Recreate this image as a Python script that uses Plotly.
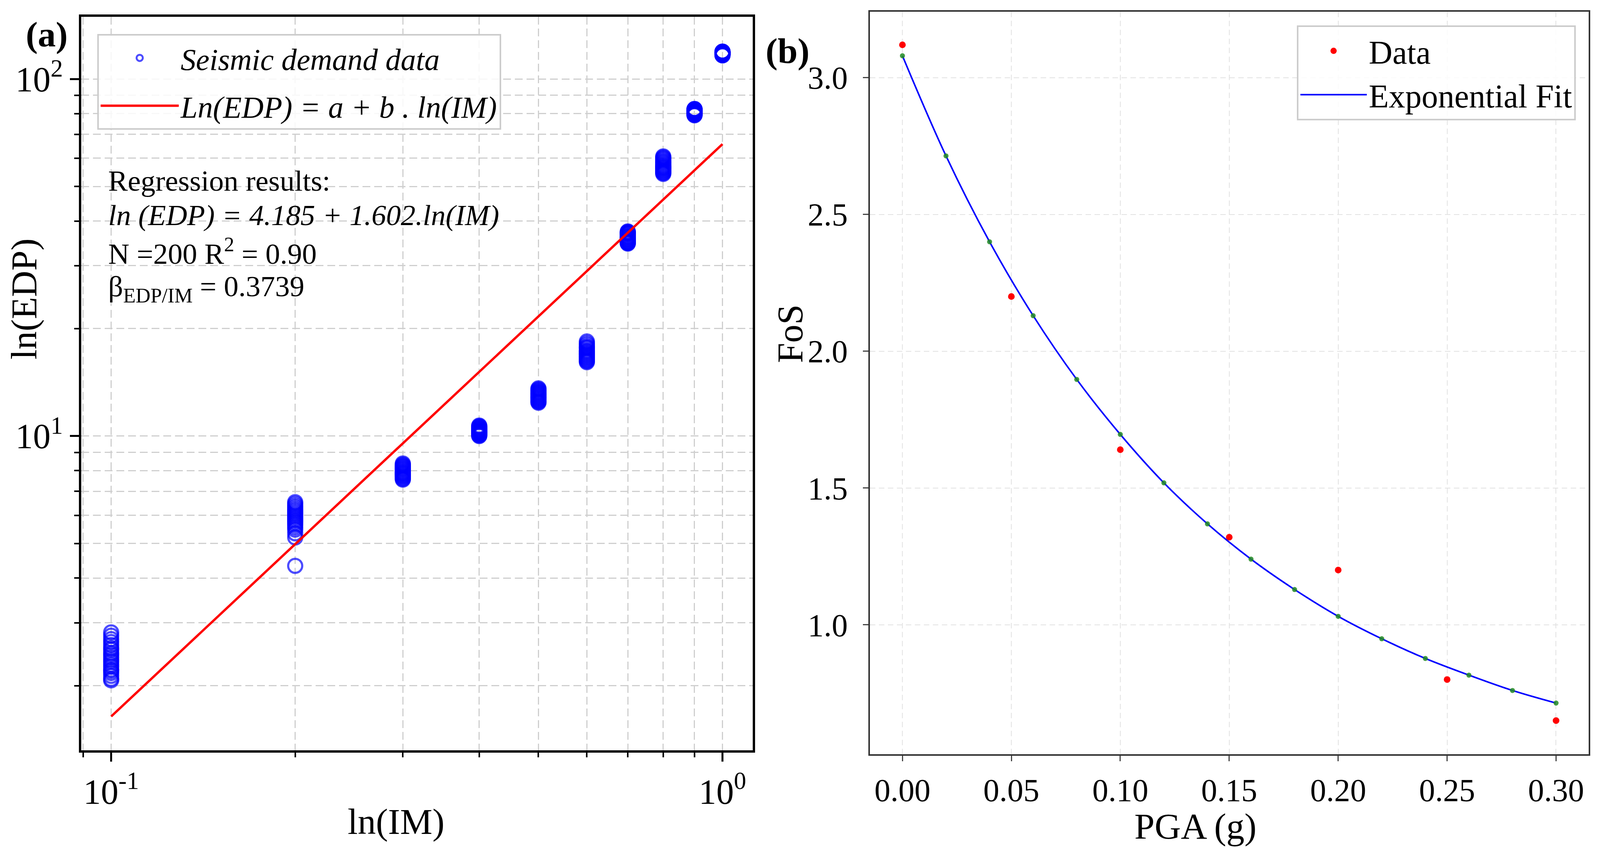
import plotly.graph_objects as go

# ---- panel (a): seismic demand data (IM levels, 20 records each) ----
im_levels = [0.1, 0.2, 0.3, 0.4, 0.5, 0.6, 0.7, 0.8, 0.9, 1.0]
edp_by_im = [
    [2.07, 2.09, 2.13, 2.17, 2.20, 2.22, 2.26, 2.29, 2.33, 2.36,
     2.40, 2.44, 2.47, 2.52, 2.55, 2.60, 2.65, 2.70, 2.76, 2.82],
    [4.33, 5.20, 5.34, 5.47, 5.55, 5.63, 5.70, 5.76, 5.82, 5.88,
     5.94, 6.00, 6.06, 6.12, 6.18, 6.24, 6.31, 6.38, 6.46, 6.53],
    [7.55, 7.59, 7.64, 7.69, 7.73, 7.77, 7.81, 7.85, 7.88, 7.92,
     7.96, 8.00, 8.05, 8.09, 8.13, 8.18, 8.22, 8.27, 8.32, 8.38],
    [10.00, 10.04, 10.08, 10.11, 10.15, 10.18, 10.21, 10.24, 10.27, 10.30,
     10.33, 10.36, 10.40, 10.44, 10.48, 10.52, 10.56, 10.61, 10.65, 10.70],
    [12.40, 12.46, 12.52, 12.58, 12.64, 12.70, 12.76, 12.82, 12.88, 12.94,
     13.00, 13.06, 13.12, 13.18, 13.24, 13.30, 13.37, 13.44, 13.52, 13.60],
    [16.1, 16.2, 16.3, 16.4, 16.5, 16.6, 16.7, 16.8, 16.9, 17.0,
     17.1, 17.2, 17.3, 17.4, 17.6, 17.7, 17.8, 18.0, 18.2, 18.4],
    [34.6, 34.7, 34.8, 34.9, 35.0, 35.2, 35.3, 35.5, 35.6, 35.8,
     36.0, 36.1, 36.3, 36.5, 36.7, 36.9, 37.0, 37.1, 37.3, 37.4],
    [54.2, 54.5, 54.8, 55.1, 55.4, 55.7, 56.0, 56.3, 56.5, 56.8,
     57.1, 57.4, 57.8, 58.2, 58.6, 59.0, 59.5, 59.9, 60.3, 60.7],
    [79.1, 79.3, 79.5, 79.7, 79.9, 80.1, 80.3, 80.4, 80.6, 80.8,
     81.0, 81.2, 81.4, 81.5, 81.7, 81.9, 82.0, 82.1, 82.3, 82.4],
    [116.4, 116.6, 116.8, 117.0, 117.1, 117.3, 117.5, 117.6, 117.8, 117.9,
     118.1, 118.2, 118.4, 118.5, 118.7, 118.8, 118.9, 119.0, 119.2, 119.3],
]
# regression line ln(EDP) = 4.185 + 1.602 ln(IM), end points
fit_im = [0.1, 1.0]
fit_edp = [1.64, 65.7]

# ---- panel (b): FoS vs PGA ----
pga_data = [0.00, 0.05, 0.10, 0.15, 0.20, 0.25, 0.30]
fos_data = [3.12, 2.20, 1.64, 1.32, 1.20, 0.80, 0.65]
pga_fit = [0.00, 0.02, 0.04, 0.06, 0.08, 0.10, 0.12, 0.14,
           0.16, 0.18, 0.20, 0.22, 0.24, 0.26, 0.28, 0.30]
fos_fit = [3.080, 2.714, 2.400, 2.130, 1.897, 1.696, 1.519, 1.369,
           1.240, 1.129, 1.031, 0.949, 0.877, 0.816, 0.760, 0.714]

# reference canvas size, used to turn pixel positions into paper fractions
W, H = 4307, 2170
SERIF = "Liberation Serif"


def px(x):
    return x / W


def py(y):
    return 1 - y / H


scatter_x = [im for im, vals in zip(im_levels, edp_by_im) for _ in vals]
scatter_y = [v for vals in edp_by_im for v in vals]

fig = go.Figure()

fig.add_trace(go.Scatter(
    x=scatter_x, y=scatter_y, mode="markers",
    name="<i>Seismic demand data</i>", legendgroup="a1",
    marker=dict(symbol="circle-open", size=36, color="rgba(0,0,255,0.7)",
                line=dict(width=5.5)),
    xaxis="x", yaxis="y", legend="legend",
))
fig.add_trace(go.Scatter(
    x=fit_im, y=fit_edp, mode="lines",
    name="<i>Ln(EDP) = a + b . ln(IM)</i>", legendgroup="a2",
    line=dict(color="red", width=6),
    xaxis="x", yaxis="y", legend="legend",
))

fig.add_trace(go.Scatter(
    x=pga_data, y=fos_data, mode="markers", name="Data", legendgroup="b1",
    marker=dict(color="red", size=17),
    xaxis="x2", yaxis="y2", legend="legend2",
))
fig.add_trace(go.Scatter(
    x=pga_fit, y=fos_fit, mode="lines", name="Exponential Fit", legendgroup="b2",
    line=dict(color="blue", width=4, shape="spline", smoothing=1.0),
    xaxis="x2", yaxis="y2", legend="legend2",
))
fig.add_trace(go.Scatter(
    x=pga_fit, y=fos_fit, mode="markers", showlegend=False,
    marker=dict(color="rgba(34,139,34,0.85)", size=13),
    xaxis="x2", yaxis="y2",
))

grid_a = dict(showgrid=True, gridcolor="#cfcfcf", griddash="20px,10px", gridwidth=3)
grid_b = dict(showgrid=True, gridcolor="#e2e2e2", griddash="14px,9px", gridwidth=2)
minor_x = [0.09, 0.2, 0.3, 0.4, 0.5, 0.6, 0.7, 0.8, 0.9]
minor_y = [2, 3, 4, 5, 6, 7, 8, 9, 20, 30, 40, 50, 60, 70, 80, 90]

fig.update_layout(
    height=H,
    margin=dict(l=0, r=0, t=0, b=0),
    paper_bgcolor="white", plot_bgcolor="white",
    font=dict(family=SERIF, color="black"),
    xaxis=dict(
        domain=[px(211), px(2026)], anchor="y", type="log", range=[-1.049, 0.0496],
        tickmode="array", tickvals=[0.1, 1.0],
        ticktext=["10<sup>-1</sup>", "10<sup>0</sup>"],
        ticks="outside", ticklen=23, tickwidth=5, tickcolor="black",
        tickfont=dict(size=90), ticklabelstandoff=0,
        showline=True, linecolor="black", linewidth=6, mirror=True,
        minor=dict(tickmode="array", tickvals=minor_x, ticks="outside",
                   ticklen=12, tickwidth=4, tickcolor="black", **grid_a),
        zeroline=False, **grid_a,
    ),
    yaxis=dict(
        domain=[py(1912), py(35)], anchor="x", type="log", range=[0.12, 2.174],
        tickmode="array", tickvals=[10, 100],
        ticktext=["10<sup>1</sup>", "10<sup>2</sup>"],
        ticks="outside", ticklen=23, tickwidth=5, tickcolor="black",
        tickfont=dict(size=90), ticklabelstandoff=0,
        showline=True, linecolor="black", linewidth=6, mirror=True,
        minor=dict(tickmode="array", tickvals=minor_y, ticks="outside",
                   ticklen=12, tickwidth=4, tickcolor="black", **grid_a),
        zeroline=False, **grid_a,
    ),
    xaxis2=dict(
        domain=[px(2342), px(4285)], anchor="y2", range=[-0.015, 0.315],
        tickmode="array", tickvals=[0.0, 0.05, 0.10, 0.15, 0.20, 0.25, 0.30],
        tickformat=".2f",
        ticks="outside", ticklen=14, tickwidth=3, tickcolor="#444444",
        tickfont=dict(size=82), ticklabelstandoff=4,
        showline=True, linecolor="#333333", linewidth=4, mirror=True,
        zeroline=False, **grid_b,
    ),
    yaxis2=dict(
        domain=[py(1922), py(22)], anchor="x2", range=[0.527, 3.241],
        tickmode="array", tickvals=[1.0, 1.5, 2.0, 2.5, 3.0], tickformat=".1f",
        ticks="outside", ticklen=14, tickwidth=3, tickcolor="#444444",
        tickfont=dict(size=82), ticklabelstandoff=22,
        showline=True, linecolor="#333333", linewidth=4, mirror=True,
        zeroline=False, **grid_b,
    ),
    legend=dict(
        x=px(254), y=py(79), xanchor="left", yanchor="top",
        bgcolor="rgba(255,255,255,0.85)", bordercolor="#cccccc", borderwidth=4,
        font=dict(family=SERIF, size=78), itemwidth=200,
        traceorder="grouped", tracegroupgap=18,
    ),
    legend2=dict(
        x=px(4250), y=py(57), xanchor="right", yanchor="top",
        bgcolor="rgba(255,255,255,0.85)", bordercolor="#cccccc", borderwidth=4,
        font=dict(family=SERIF, size=84), itemwidth=170,
        traceorder="grouped", tracegroupgap=0,
    ),
)

# regression summary text in panel (a)
notes = [
    ("Regression results:", 454),
    ("<i>ln (EDP) = 4.185 + 1.602.ln(IM)</i>", 543),
    ("N =200 R<sup>2</sup> = 0.90", 635),
    ("β<sub>EDP/IM</sub> = 0.3739", 730),
]
for txt, ypix in notes:
    fig.add_annotation(text=txt, xref="paper", yref="paper", x=px(282), y=py(ypix),
                       xanchor="left", yanchor="middle", showarrow=False,
                       font=dict(family=SERIF, size=75, color="black"))

# axis titles, placed where the reference shows them
titles = [
    ("ln(IM)", 1062, 2094, 0),
    ("PGA (g)", 3222, 2106, 0),
    ("ln(EDP)", 56, 757, -90),
    ("FoS", 2127, 846, -90),
]
for txt, xpix, ypix, ang in titles:
    fig.add_annotation(text=txt, xref="paper", yref="paper", x=px(xpix), y=py(ypix),
                       xanchor="center", yanchor="middle", showarrow=False, textangle=ang,
                       font=dict(family=SERIF, size=93, color="black"))

# panel letters
for txt, xpix, ypix in [("<b>(a)</b>", 118, 80), ("<b>(b)</b>", 2120, 122)]:
    fig.add_annotation(text=txt, xref="paper", yref="paper", x=px(xpix), y=py(ypix),
                       xanchor="center", yanchor="middle", showarrow=False,
                       font=dict(family=SERIF, size=92, color="black"))

fig.write_html("out.html")
